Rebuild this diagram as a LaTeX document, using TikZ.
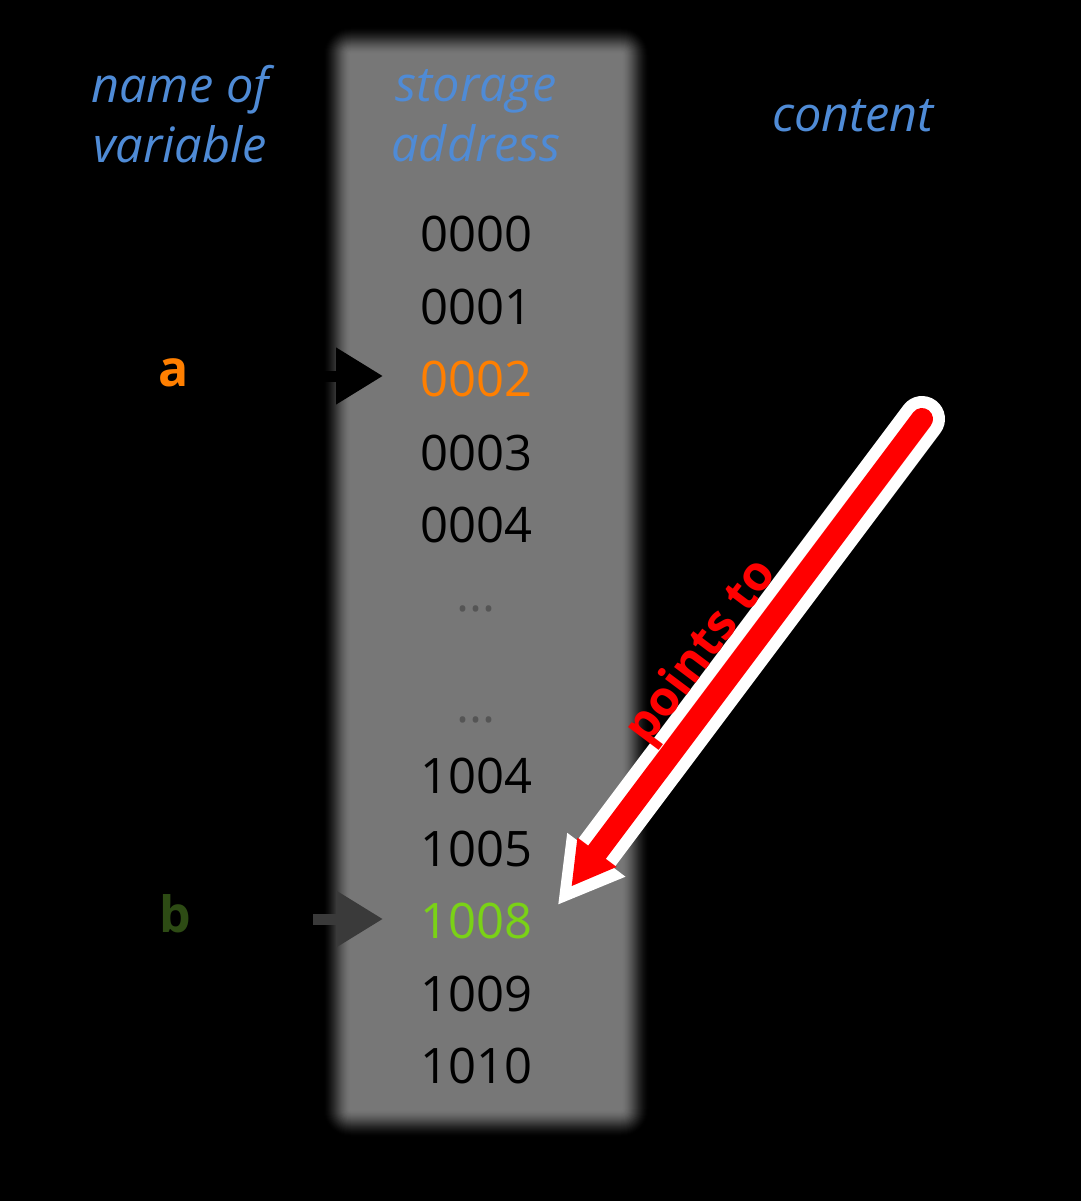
\documentclass[tikz,border=0pt]{standalone}
\usepackage{fontspec}
\setmainfont{Open Sans}
\usetikzlibrary{arrows.meta}

\definecolor{headblue}{RGB}{79,139,214}
\definecolor{colgray}{RGB}{120,120,120}
\definecolor{aorange}{RGB}{255,127,0}
\definecolor{bgreen}{RGB}{45,75,20}
\definecolor{lgreen}{RGB}{122,210,22}
\definecolor{dotgray}{RGB}{85,85,85}
\definecolor{bptr}{RGB}{58,58,58}
\definecolor{ptrred}{RGB}{255,0,0}

\begin{document}
\begin{tikzpicture}[x=0.75pt,y=-0.75pt,
  header/.style={font=\fontsize{36.5}{45}\selectfont\itshape, text=headblue,
    align=center, anchor=base, inner sep=0pt},
  addr/.style={font=\fontsize{36.7}{45}\selectfont, anchor=base, inner sep=0pt},
  gap/.style={font=\fontsize{36.7}{45}\selectfont, text=dotgray, anchor=base, inner sep=0pt},
  varname/.style={font=\fontsize{37.5}{45}\selectfont\bfseries, anchor=base, inner sep=0pt},
  refarrow/.style={line width=8.25pt, -{Triangle[length=35.25pt,width=40.5pt]}},
  pointslabel/.style={font=\fontsize{36.5}{40}\selectfont\bfseries, text=ptrred,
    anchor=mid, inner sep=0pt, rotate=53.15},
]
% canvas
\fill[black] (0,0) rectangle (1081,1201);

% soft-edged memory column: stacked translucent layers whose combined
% coverage follows a smoothstep profile across the edge
\foreach \k in {1,...,30}{
  \pgfmathsetmacro\dd{15.5-\k}
  \pgfmathsetmacro\ta{(\k-1)/30}
  \pgfmathsetmacro\tb{\k/30}
  \pgfmathsetmacro\ca{3*\ta*\ta-2*\ta*\ta*\ta}
  \pgfmathsetmacro\cb{3*\tb*\tb-2*\tb*\tb*\tb}
  \pgfmathsetmacro\op{min(1,(\cb-\ca)/(1-\ca+0.00001))}
  \pgfmathsetmacro\rr{max(0.5,15+\dd)*0.75}
  \fill[colgray, opacity=\op, rounded corners=\rr pt]
    (336-\dd,40-\dd) rectangle (636+\dd,1124+\dd);
}

% column headings (base anchor sits on the last line)
\node[header] (hname) at (180,163) {name of\\variable};
\node[header] (haddr) at (476,162) {storage\\address};
\node[header] (hcont) at (853,132) {content};

% addresses
\node[addr] (n0000) at (476,252) {0000};
\node[addr] (n0001) at (476,325) {0001};
\node[addr, text=aorange] (n0002) at (476,397) {0002};
\node[addr] (n0003) at (476,470) {0003};
\node[addr] (n0004) at (476,542) {0004};
\node[gap]  (gap1)  at (476,611) {...};
\node[gap]  (gap2)  at (476,722) {...};
\node[addr] (n1004) at (476,793) {1004};
\node[addr] (n1005) at (476,866) {1005};
\node[addr, text=lgreen] (n1008) at (476,938) {1008};
\node[addr] (n1009) at (476,1011) {1009};
\node[addr] (n1010) at (476,1083) {1010};

% variable names
\node[varname, text=aorange] (va) at (174,387) {a};
\node[varname, text=bgreen]  (vb) at (175,932) {b};

% variable -> address markers
\coordinate (aTail) at (313,376);
\coordinate (aHead) at (383,376);
\coordinate (bTail) at (313,919);
\coordinate (bHead) at (383,919);
\draw[refarrow, black] (aTail) -- (aHead);
\draw[refarrow, bptr]  (bTail) -- (bHead);

% pointer arrow: white outline, then red body
\coordinate (pStart) at (922,419);
\coordinate (pTip)   at (571.7,886);
\coordinate (pWingL) at (577.4,837.5);
\coordinate (pWingR) at (616.6,866.9);
\coordinate (pBase)  at (597.0,852.2);
\coordinate (pJoin)  at (592.2,858.6);
\coordinate (oTip)   at (558.3,904.3);
\coordinate (oWingL) at (567.2,832.8);
\coordinate (oWingR) at (625.5,876.7);
\draw[white, line width=34.5pt, line cap=round] (pStart) -- (pBase);
\fill[white] (oTip) -- (oWingL) -- (oWingR) -- cycle;
\fill[ptrred] (pTip) -- (pWingL) -- (pWingR) -- cycle;
\draw[ptrred, line width=16.5pt, line cap=round] (pStart) -- (pJoin);

\node[pointslabel] (plabel) at (710,658) {points to};
\end{tikzpicture}
\end{document}
